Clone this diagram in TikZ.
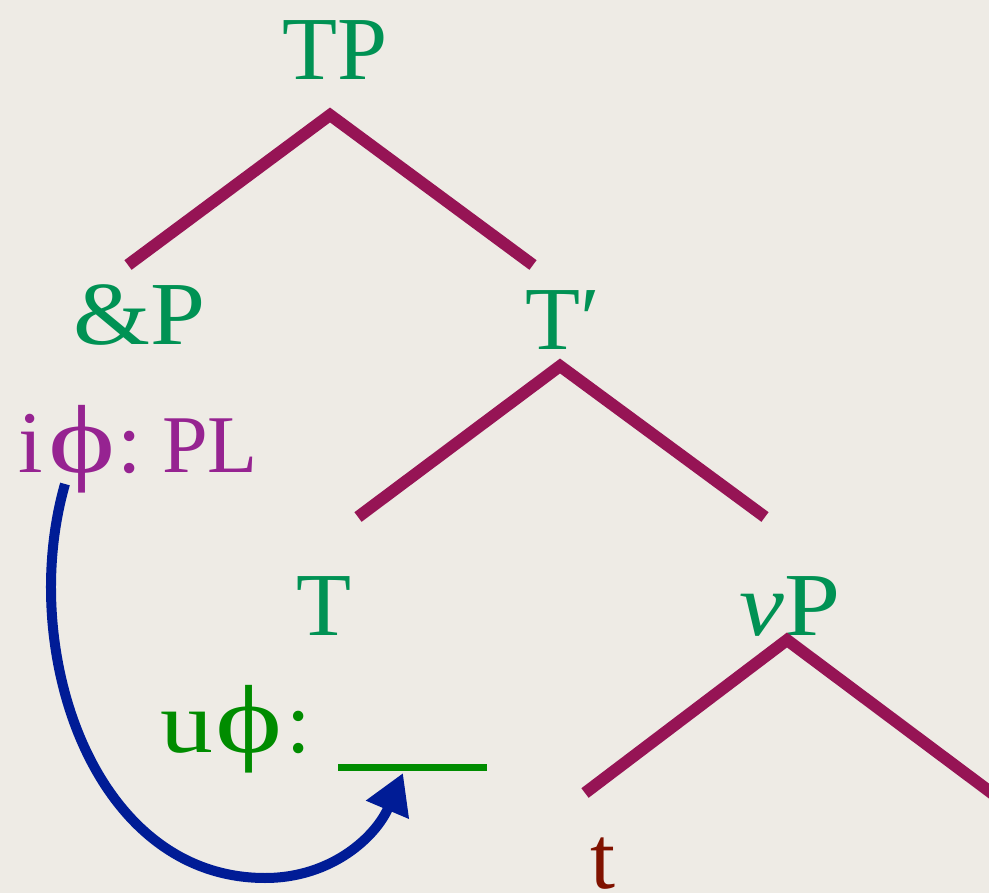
\documentclass[tikz,border=0pt]{standalone}
\usepackage{fontspec}
\setmainfont{Liberation Serif}
\usetikzlibrary{arrows.meta}
\definecolor{paper}{RGB}{238,235,229}
\definecolor{cat}{RGB}{0,146,84}
\definecolor{branch}{RGB}{150,20,85}
\definecolor{feat}{RGB}{150,35,145}
\definecolor{ugreen}{RGB}{0,140,0}
\definecolor{trace}{RGB}{128,18,0}
\definecolor{agree}{RGB}{0,28,150}
\newcommand{\widephi}{\scalebox{1.45}[1.1]{ϕ}}
\begin{document}
\begin{tikzpicture}[x=1pt,y=-1pt,
  catlabel/.style={text=cat,anchor=base,inner sep=0pt,font=\fontsize{90}{100}\selectfont},
  featlabel/.style={anchor=base west,inner sep=0pt,font=\fontsize{88}{100}\selectfont},
  branchline/.style={draw=branch,line width=12pt,line join=miter},
  agreearrow/.style={draw=agree,line width=10pt,-{Triangle[length=40pt,width=44pt]}}]
\fill[paper] (0,0) rectangle (989,893);
\useasboundingbox (0,0) rectangle (989,893);
% labels
\node[catlabel] (TP) at (335,80) {TP};
\node[catlabel] (andP) at (140,345) {\scalebox{1.1}[1]{\&P}};
\node[catlabel] (Tbar) at (563,350) {T′};
\node[featlabel,text=feat] (iphi) at (18,472) {i\kern6pt\widephi\kern2pt:\hspace{20pt}{\fontsize{82}{90}\selectfont PL}};
\node[catlabel] (T) at (324,635) {T};
\node[catlabel] (vP) at (790,635) {\scalebox{1.12}[1]{\textit{v}P}};
\node[featlabel,text=ugreen] (uphi) at (160,752) {\scalebox{1.2}[1]{u}\kern2pt\widephi\kern4pt:};
\node[catlabel,text=trace] (t) at (603,888) {t};
% branch points
\coordinate (TPapex) at (330,115);
\coordinate (andPtop) at (128,265);
\coordinate (Tbartop) at (533,265);
\coordinate (Tbarapex) at (560,366);
\coordinate (Ttop) at (358,517);
\coordinate (vPtop) at (765,517);
\coordinate (vPapex) at (787,640);
\coordinate (ttop) at (585,793);
\coordinate (offright) at (997,797);
\draw[branchline] (andPtop) -- (TPapex) -- (Tbartop);
\draw[branchline] (Ttop) -- (Tbarapex) -- (vPtop);
\draw[branchline] (ttop) -- (vPapex) -- (offright);
% blank slot
\coordinate (blankL) at (338,767);
\coordinate (blankR) at (487,767);
\draw[ugreen,line width=7pt] (blankL) -- (blankR);
% agreement arrow
\coordinate (arrS) at (65,484);
\coordinate (arrB) at (265,878);
\coordinate (arrT) at (403,773);
\draw[agreearrow] (arrS) to[out=-106,in=180,looseness=1.0] (arrB) to[out=0,in=-113] (arrT);
\end{tikzpicture}
\end{document}
